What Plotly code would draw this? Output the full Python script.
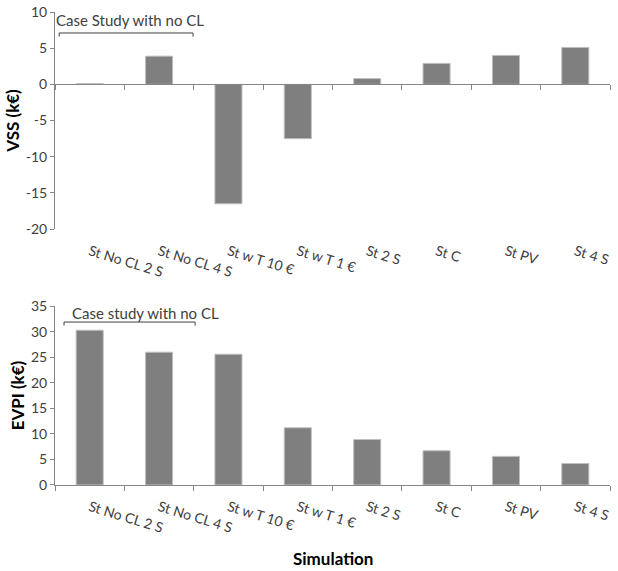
import plotly.graph_objects as go

categories = ["St No CL 2 S", "St No CL 4 S", "St w T 10 €", "St w T 1 €",
              "St 2 S", "St C", "St PV", "St 4 S"]
vss_values = [0.1, 3.9, -16.5, -7.5, 0.8, 2.9, 4.0, 5.1]
evpi_values = [30.3, 26.0, 25.6, 11.2, 8.9, 6.7, 5.6, 4.2]
vss_ticks = [10, 5, 0, -5, -10, -15, -20]
vss_ticktext = ["10", "5", "0", "-5", "-10", "-15", "-20"]
evpi_ticks = [0, 5, 10, 15, 20, 25, 30, 35]

FONT = "Lato"
AXIS_COL = "#868686"
TXT = "#404040"
BAR = "#7f7f7f"

fig = go.Figure()
fig.add_trace(go.Bar(x=categories, y=vss_values, xaxis="x", yaxis="y",
                     marker=dict(color=BAR, line=dict(color="#bfbfbf", width=1)),
                     width=0.39, showlegend=False))
fig.add_trace(go.Bar(x=categories, y=evpi_values, xaxis="x2", yaxis="y2",
                     marker=dict(color=BAR, line=dict(color="#bfbfbf", width=1)),
                     width=0.39, showlegend=False))

top_dom = [0.541, 1.0]
bot_dom = [0.0, 0.378]
zero_pos = top_dom[0] + (top_dom[1] - top_dom[0]) * (0 - (-20)) / 30.0

tickfont = dict(family=FONT, size=14, color=TXT)
bound_vals = [i - 0.5 for i in range(len(categories) + 1)]

fig.update_layout(
    width=618, height=571,
    margin=dict(l=55, r=8, t=12, b=86),
    paper_bgcolor="white", plot_bgcolor="white",
    font=dict(family=FONT, color=TXT),
    xaxis=dict(domain=[0, 1], anchor="y", range=[-0.5, 7.5], type="category",
               showline=False, ticks="", tickangle=17, tickfont=tickfont,
               ticklabelstandoff=11, showgrid=False, automargin=False),
    yaxis=dict(domain=top_dom, anchor="x", range=[-20, 10], tickvals=vss_ticks,
               ticktext=vss_ticktext, ticklabeloverflow="allow",
               showline=True, linecolor=AXIS_COL, linewidth=1, ticks="outside",
               ticklen=4, tickcolor=AXIS_COL, tickfont=tickfont, showgrid=False,
               zeroline=False, automargin=False,
               title=dict(text="<b>VSS (k€)</b>", font=dict(family=FONT, size=17, color="#000"),
                          standoff=1)),
    xaxis3=dict(overlaying="x", anchor="free", position=zero_pos, range=[-0.5, 7.5],
                tickvals=bound_vals, showticklabels=False, ticks="outside", ticklen=5,
                tickcolor=AXIS_COL, showline=True, linecolor=AXIS_COL, linewidth=1,
                showgrid=False, zeroline=False, automargin=False),
    xaxis2=dict(domain=[0, 1], anchor="y2", range=[-0.5, 7.5], type="category",
                showline=True, linecolor=AXIS_COL, linewidth=1, ticks="outside",
                tickson="boundaries", ticklen=5, tickcolor=AXIS_COL, tickangle=17,
                tickfont=tickfont, ticklabelstandoff=8, showgrid=False, automargin=False),
    yaxis2=dict(domain=bot_dom, anchor="x2", range=[0, 35], tickvals=evpi_ticks,
                showline=True, linecolor=AXIS_COL, linewidth=1, ticks="outside",
                ticklen=4, tickcolor=AXIS_COL, tickfont=tickfont, showgrid=False,
                zeroline=False, automargin=False,
                title=dict(text="<b>EVPI (k€)</b>", font=dict(family=FONT, size=17, color="#000"),
                           standoff=1)),
)

# brackets
fig.add_shape(type="path", xref="x3", yref="y",
              path="M -0.44 6.6 L -0.44 7.1 L 1.49 7.1 L 1.49 6.6",
              line=dict(color="#404040", width=1))
fig.add_shape(type="path", xref="x3", yref="y2",
              path="M -0.37 31.2 L -0.37 31.9 L 1.52 31.9 L 1.52 31.2",
              line=dict(color="#404040", width=1))

fig.add_annotation(x=0.58, y=8.9, xref="x3", yref="y", text="Case Study with no CL",
                   showarrow=False, font=dict(family=FONT, size=15, color=TXT))
fig.add_annotation(x=0.81, y=33.6, xref="x3", yref="y2", text="Case study with no CL",
                   showarrow=False, font=dict(family=FONT, size=15, color=TXT))
fig.add_annotation(x=0.5, y=-0.156, xref="paper", yref="paper", yanchor="middle",
                   text="<b>Simulation</b>",
                   showarrow=False, font=dict(family=FONT, size=17, color="#000"))

fig.write_html("out.html", config={"displayModeBar": False},
               post_script="document.body.style.margin='0';document.body.style.overflow='hidden';")
